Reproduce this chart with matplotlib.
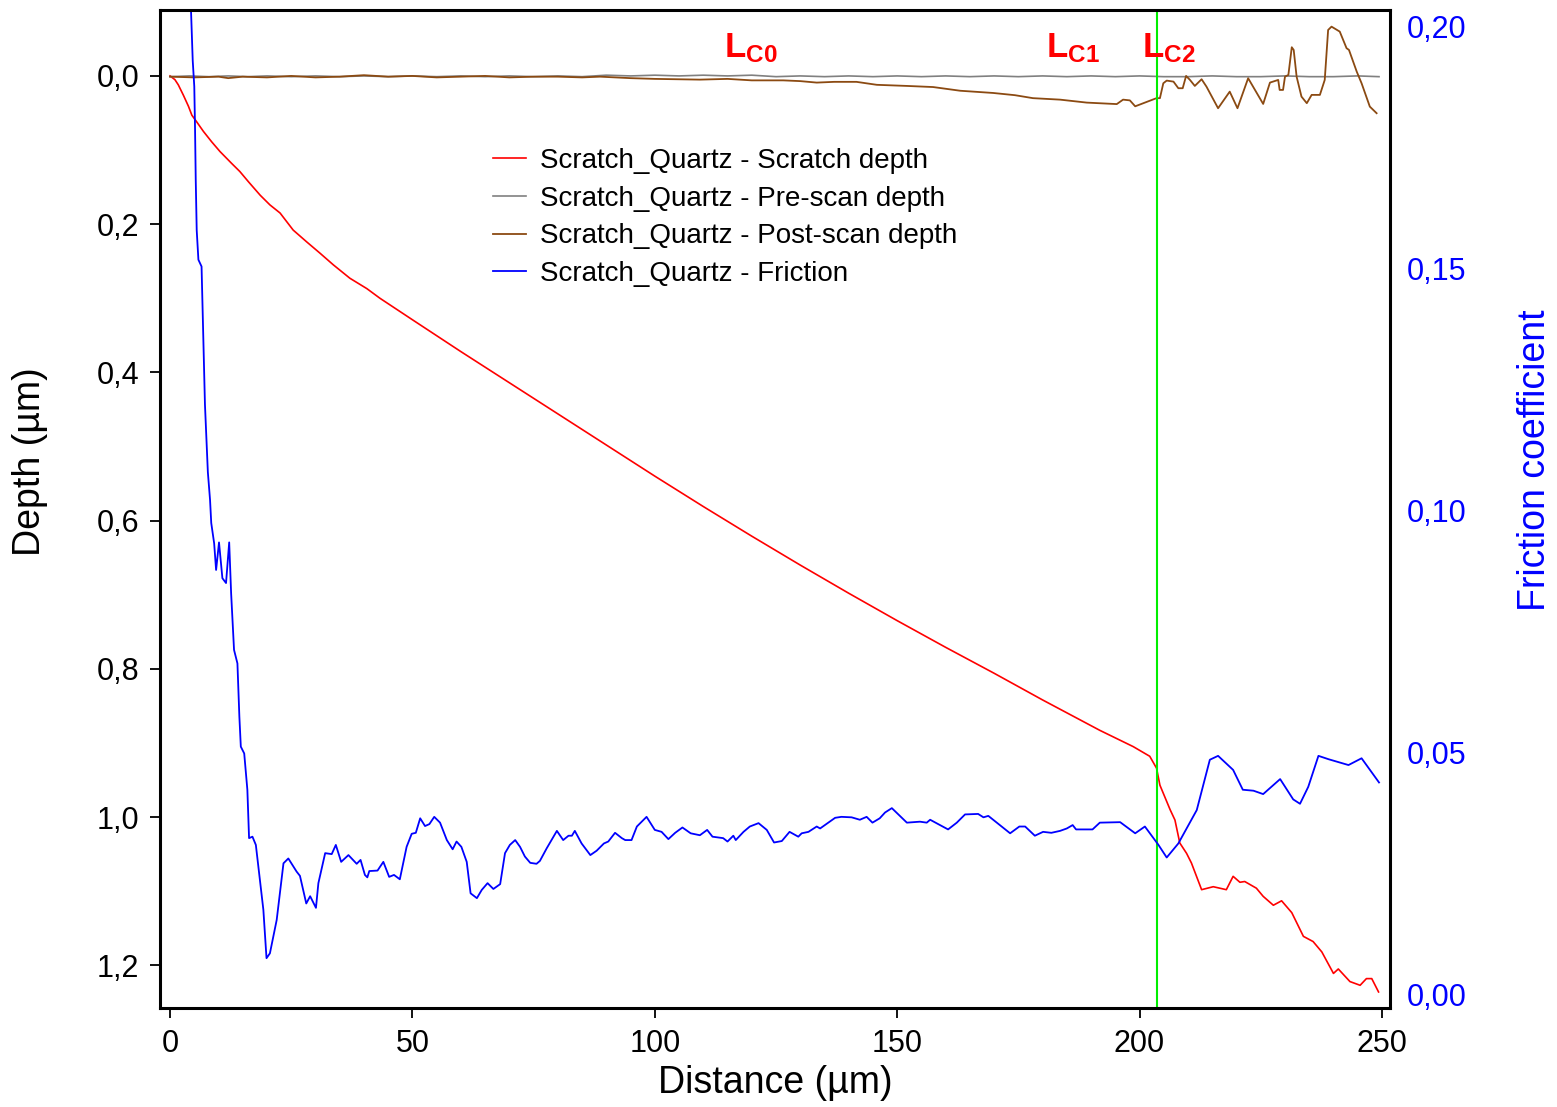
import matplotlib
matplotlib.use('Agg')
import matplotlib.pyplot as plt
from matplotlib.ticker import FuncFormatter

plt.rcParams['font.family'] = ['Liberation Sans', 'DejaVu Sans']
plt.rcParams['mathtext.fontset'] = 'custom'
plt.rcParams['mathtext.bf'] = 'Liberation Sans:bold'
plt.rcParams['mathtext.rm'] = 'Liberation Sans'

# Scratch depth (um) vs distance (um)
scratch_x = [0, 1.0, 1.7, 2.75, 3.8, 4.5, 5.5, 6.9, 8.6, 10.3, 12.7, 14.4, 16.2, 18.6,
             20.6, 22.7, 25.4, 28.2, 30.9, 33.7, 37.1, 40.6, 43.3, 50, 60, 70, 80, 90,
             100, 110, 120, 130, 140, 150, 160, 170, 180, 191.8, 198.7, 202.1, 203.5,
             204.2, 206.3, 207.3, 208.3, 209.7, 210.7, 212.8, 215.2, 217.9, 219.3,
             220.7, 221.7, 224.1, 225.5, 227.6, 229.3, 231.4, 233.8, 235.8, 237.6,
             240.0, 241.0, 243.4, 245.5, 246.8, 247.9, 249.3]
scratch_depth = [0.000, 0.005, 0.012, 0.026, 0.041, 0.053, 0.062, 0.075, 0.089, 0.102,
                 0.118, 0.129, 0.143, 0.161, 0.174, 0.185, 0.208, 0.224, 0.239, 0.255,
                 0.273, 0.287, 0.300, 0.329, 0.372, 0.414, 0.456, 0.498, 0.540, 0.581,
                 0.621, 0.660, 0.698, 0.735, 0.771, 0.806, 0.842, 0.883, 0.905, 0.918,
                 0.934, 0.957, 0.990, 1.004, 1.035, 1.049, 1.062, 1.098, 1.094, 1.098,
                 1.080, 1.088, 1.087, 1.096, 1.107, 1.119, 1.113, 1.129, 1.161, 1.168,
                 1.182, 1.211, 1.205, 1.222, 1.227, 1.218, 1.218, 1.236]

# Pre-scan surface profile
pre_x = [0, 4, 8, 12, 16, 20, 25, 30, 35, 40, 45, 50, 55, 60, 65, 70, 75, 80, 85, 90,
         95, 100, 105, 110, 115, 120, 125, 130, 135, 140, 145, 150, 155, 160, 165, 170,
         175, 180, 185, 190, 195, 200, 205, 210, 215, 220, 225, 230, 235, 240, 245, 249.4]
pre_depth = [0.001, 0.000, 0.001, 0.000, 0.001, 0.000, 0.001, 0.000, 0.001, 0.000,
             0.001, 0.000, 0.001, 0.000, 0.001, 0.000, 0.001, 0.000, 0.001, -0.001,
             0.000, -0.001, 0.000, -0.001, 0.000, -0.001, 0.001, 0.000, 0.001, 0.000,
             0.001, 0.000, 0.001, 0.000, 0.001, 0.000, 0.001, 0.000, 0.001, 0.000,
             0.001, 0.000, 0.001, 0.001, 0.000, 0.001, 0.001, 0.000, 0.001, 0.001,
             0.000, 0.001]

# Post-scan residual profile
post_x = [0, 5, 10, 12, 15, 20, 25, 30, 35, 40, 45, 50, 55, 60, 65, 70, 75, 80, 85,
          88.7, 95, 100, 109.3, 115, 120, 126.5, 130, 133.4, 137, 141.6, 145.8, 152,
          157.4, 163, 169.8, 174.3, 178, 183.6, 189.1, 195.3, 196.6, 198, 199.1, 201.5,
          203.5, 204.2, 204.9, 205.6, 207.0, 208.0, 208.9, 209.6, 210.4, 211.4, 212.8,
          213.8, 216.2, 218.6, 220.2, 222.4, 225.5, 226.9, 228.6, 228.9, 229.6, 230.0,
          230.7, 231.4, 231.8, 232.4, 233.4, 234.5, 235.5, 237.2, 238.2, 238.9, 239.6,
          241.3, 242.7, 243.2, 244.8, 245.8, 247.5, 248.9]
post_depth = [0.001, 0.002, 0.001, 0.003, 0.001, 0.002, 0.000, 0.002, 0.001, -0.001,
              0.001, 0.000, 0.002, 0.001, 0.000, 0.002, 0.001, 0.001, 0.002, 0.001,
              0.003, 0.004, 0.005, 0.004, 0.006, 0.006, 0.007, 0.009, 0.008, 0.008,
              0.012, 0.0135, 0.015, 0.020, 0.023, 0.026, 0.030, 0.032, 0.036, 0.038,
              0.032, 0.033, 0.041, 0.035, 0.030, 0.030, 0.0099, 0.0063, 0.0077, 0.0166,
              0.0166, 0.000, 0.0054, 0.0135, 0.0045, 0.0144, 0.0436, 0.0212, 0.0436,
              0.0031, 0.0378, 0.009, 0.0054, 0.0189, 0.0189, 0.001, -0.0013, -0.0387,
              -0.035, 0.001, 0.0279, 0.0368, 0.0256, 0.0256, 0.0054, -0.062, -0.0665,
              -0.0598, -0.0374, -0.0351, -0.0058, 0.0099, 0.0414, 0.0503]

# Friction coefficient vs distance
fric_x = [4.1, 4.68, 5.0, 5.16, 5.3, 5.5, 5.85, 6.5, 6.67, 7.2, 7.8, 8.25, 8.5, 9.1,
          9.5, 10.1, 10.8, 11.55, 12.2, 12.6, 13.2, 13.9, 14.3, 14.6, 15.3, 15.95,
          16.3, 17.0, 17.7, 19.25, 19.9, 20.6, 22.0, 23.4, 24.4, 26.1, 26.8, 28.1,
          28.9, 30.1, 30.6, 32.0, 33.35, 34.2, 35.3, 36.8, 38.5, 39.3, 40.2, 40.7,
          41.1, 42.8, 44.0, 45.2, 46.2, 47.4, 48.8, 49.85, 50.7, 51.6, 52.6, 53.5,
          54.5, 55.7, 57.1, 58.3, 59.1, 60.1, 61.2, 62.0, 63.3, 64.3, 65.5, 66.7,
          68.1, 69.1, 70.1, 71.2, 72.2, 73.2, 74.3, 75.6, 76.3, 77.7, 79.8, 81.1,
          82.2, 82.9, 83.5, 84.9, 86.7, 88.0, 89.5, 90.4, 91.8, 93.2, 93.9, 95.2,
          96.3, 98.3, 100.0, 101.4, 102.8, 104.2, 105.7, 107.4, 109.3, 110.8, 111.9,
          114.1, 115.0, 116.2, 116.7, 118.3, 119.6, 121.4, 123.1, 124.6, 126.2,
          127.8, 129.6, 130.3, 131.7, 133.4, 134.1, 135.8, 137.2, 138.5, 140.6,
          142.3, 143.7, 144.9, 146.4, 147.5, 148.9, 152.0, 154.7, 156.1, 156.8,
          160.5, 162.3, 164.0, 166.7, 167.8, 168.8, 173.3, 175.2, 176.4, 178.4,
          180.1, 181.8, 183.6, 185.0, 186.2, 186.9, 190.3, 191.8, 196.0, 199.1,
          201.1, 203.9, 205.6, 208.0, 211.8, 214.5, 216.2, 219.3, 221.3, 223.5,
          225.5, 229.0, 231.7, 233.1, 234.8, 236.9, 239.0, 243.1, 245.8, 249.4]
fric_coef = [0.210, 0.193, 0.1877, 0.1787, 0.1684, 0.158, 0.1519, 0.1505, 0.1436,
             0.122, 0.108, 0.1023, 0.0975, 0.0933, 0.0878, 0.0935, 0.0861, 0.0851,
             0.0935, 0.0830, 0.0713, 0.0685, 0.0575, 0.0513, 0.0499, 0.0424, 0.0324,
             0.0327, 0.0310, 0.0176, 0.0076, 0.0086, 0.0155, 0.0272, 0.0282, 0.0255,
             0.0246, 0.0189, 0.0204, 0.0180, 0.0231, 0.0293, 0.0291, 0.0310, 0.0275,
             0.0289, 0.0271, 0.0279, 0.0248, 0.0243, 0.0256, 0.0257, 0.0275, 0.0244,
             0.0248, 0.0239, 0.0306, 0.0333, 0.0335, 0.0365, 0.0349, 0.0353, 0.0368,
             0.0356, 0.0320, 0.0301, 0.0317, 0.0306, 0.0275, 0.0210, 0.0200, 0.0217,
             0.0231, 0.0219, 0.0229, 0.0293, 0.0310, 0.0320, 0.0306, 0.0286, 0.0273,
             0.0271, 0.0277, 0.0303, 0.0339, 0.0320, 0.0329, 0.0329, 0.0339, 0.0313,
             0.0289, 0.0298, 0.0313, 0.0317, 0.0335, 0.0324, 0.0320, 0.0320, 0.0348,
             0.0368, 0.0341, 0.0337, 0.0322, 0.0335, 0.0346, 0.0334, 0.0330, 0.0341,
             0.0327, 0.0324, 0.0317, 0.0329, 0.0320, 0.0337, 0.0348, 0.0355, 0.0341,
             0.0315, 0.0318, 0.0337, 0.0327, 0.0334, 0.0337, 0.0348, 0.0344, 0.0356,
             0.0366, 0.0368, 0.0367, 0.0362, 0.0368, 0.0356, 0.0365, 0.0377, 0.0386,
             0.0356, 0.0358, 0.0356, 0.0362, 0.0342, 0.0356, 0.0373, 0.0374, 0.0367,
             0.0370, 0.0334, 0.0348, 0.0348, 0.0329, 0.0337, 0.0335, 0.0339, 0.0344,
             0.0351, 0.0342, 0.0342, 0.0356, 0.0357, 0.0334, 0.0348, 0.0310, 0.0284,
             0.0313, 0.0382, 0.0486, 0.0494, 0.0465, 0.0424, 0.0422, 0.0415, 0.0446,
             0.0404, 0.0395, 0.0430, 0.0494, 0.0487, 0.0475, 0.0489, 0.0439]

# Critical load markers
lc_labels = [r'$\mathbf{L_{C0}}$', r'$\mathbf{L_{C1}}$', r'$\mathbf{L_{C2}}$']
lc_x = [114.2, 180.8, 200.6]
lc2_line = 203.6

fig = plt.figure(figsize=(15.57, 11.07), dpi=100)
ax = fig.add_axes([0.1028, 0.0894, 0.7899, 0.9016])
ax2 = ax.twinx()

l1, = ax.plot(scratch_x, scratch_depth, color='#ff0000', lw=1.2, label='Scratch_Quartz - Scratch depth')
l2, = ax.plot(pre_x, pre_depth, color='#808080', lw=1.2, label='Scratch_Quartz - Pre-scan depth')
l3, = ax.plot(post_x, post_depth, color='#8b4a12', lw=1.3, label='Scratch_Quartz - Post-scan depth')
l4, = ax2.plot(fric_x, fric_coef, color='#0000ff', lw=1.3, label='Scratch_Quartz - Friction')
ax.axvline(lc2_line, color='#00ee00', lw=1.5)

ax.set_xlim(-2.06, 251.65)
ax.set_ylim(1.2577, -0.089)
ax2.set_ylim(-0.0027, 0.2035)

ax.set_xticks([0, 50, 100, 150, 200, 250])
ax.set_yticks([0.0, 0.2, 0.4, 0.6, 0.8, 1.0, 1.2])
ax2.set_yticks([0.0, 0.05, 0.10, 0.15, 0.20])
ax.yaxis.set_major_formatter(FuncFormatter(lambda v, _: f'{v:.1f}'.replace('.', ',')))
ax2.yaxis.set_major_formatter(FuncFormatter(lambda v, _: f'{v:.2f}'.replace('.', ',')))

ax.tick_params(axis='both', direction='out', length=7, width=1.3, labelsize=22, pad=8)
ax2.tick_params(axis='y', length=0, labelsize=22, labelcolor='#0000ff', pad=12)
for sp in ax2.spines.values():
    sp.set_linewidth(2.2)

ax.set_xlabel('Distance (µm)', fontsize=27, va='center')
ax.xaxis.set_label_coords(0.5, -0.075)
ax.set_ylabel('Depth (µm)', fontsize=27, va='center')
ax.yaxis.set_label_coords(-0.1057, 0.547)
ax2.set_ylabel('Friction coefficient', fontsize=27, color='#0000ff', va='center')
ax2.yaxis.set_label_coords(1.118, 0.549)

for lab, xv in zip(lc_labels, lc_x):
    ax.text(xv, -0.0256, lab, color='#ff0000', fontsize=25, ha='left', va='baseline')

ax.legend(handles=[l1, l2, l3, l4], loc='upper left', bbox_to_anchor=(0.2707, 0.8617),
          frameon=False, fontsize=20, handlelength=1.2, handletextpad=0.5,
          labelspacing=0.42, borderpad=0, borderaxespad=0)

fig.savefig('out.png', dpi=100)
